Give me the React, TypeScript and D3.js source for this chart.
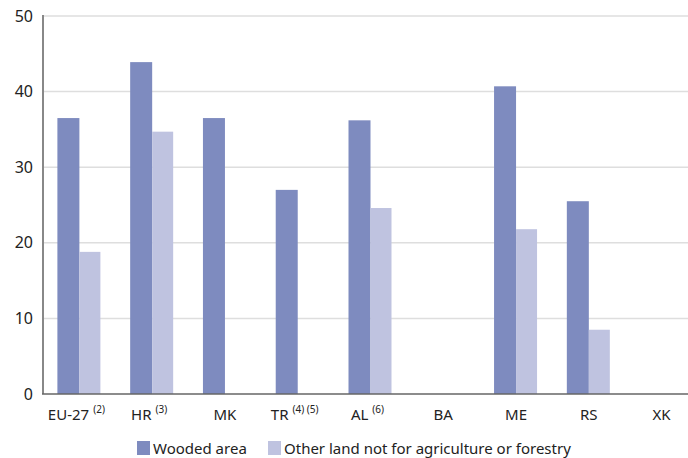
import React, { useEffect, useRef } from "react";
import * as d3 from "d3";

const categories = ["EU-27", "HR", "MK", "TR", "AL", "BA", "ME", "RS", "XK"];
const notes = ["(2)", "(3)", "", "(4) (5)", "(6)", "", "", "", ""];
const wooded: (number | null)[] = [36.5, 43.9, 36.5, 27.0, 36.2, null, 40.7, 25.5, null];
const otherLand: (number | null)[] = [18.8, 34.7, null, null, 24.6, null, 21.8, 8.5, null];
const seriesNames = ["Wooded area", "Other land not for agriculture or forestry"];
const yTicks = [0, 10, 20, 30, 40, 50];

const W = 688, H = 458;
const colors = ["#7e8bbf", "#bfc3e0"];
const FONT = "'Noto Sans', 'Open Sans', sans-serif";

export default function App() {
  const ref = useRef<SVGSVGElement>(null);
  useEffect(() => {
    const svg = d3.select(ref.current);
    svg.selectAll("*").remove();
    const left = 43, right = 698, top = 16, bottom = 394;
    const x = d3.scaleBand().domain(categories).range([left, right]).padding(0);
    const y = d3.scaleLinear().domain([0, 50]).range([bottom, top]);
    const barW = 22;

    // gridlines
    svg.append("g").selectAll("line").data(yTicks.filter(t => t > 0)).join("line")
      .attr("x1", left).attr("x2", W).attr("y1", d => y(d)).attr("y2", d => y(d))
      .attr("stroke", "#dedede").attr("stroke-width", 1.5);

    // tick labels
    svg.append("g").selectAll("text").data(yTicks).join("text")
      .attr("x", 33).attr("y", d => y(d)).attr("dy", "0.35em")
      .attr("text-anchor", "end").attr("font-family", FONT).attr("font-size", 16)
      .attr("fill", "#222").text(d => d);

    const series = [wooded, otherLand];
    series.forEach((vals, si) => {
      svg.append("g").selectAll("rect").data(categories.map((c, i) => ({ c, v: vals[i] })).filter(d => d.v != null)).join("rect")
        .attr("x", d => (x(d.c)! + x.bandwidth() / 2) - barW + si * barW)
        .attr("width", barW - (si === 1 ? 1 : 0))
        .attr("y", d => y(d.v as number))
        .attr("height", d => bottom - y(d.v as number))
        .attr("fill", colors[si]);
    });

    // axes lines
    svg.append("line").attr("x1", left).attr("x2", left).attr("y1", top - 1).attr("y2", bottom)
      .attr("stroke", "#888").attr("stroke-width", 2);
    svg.append("line").attr("x1", left - 1).attr("x2", W).attr("y1", bottom).attr("y2", bottom)
      .attr("stroke", "#666").attr("stroke-width", 1.5);

    // category labels
    const lab = svg.append("g").selectAll("text").data(categories).join("text")
      .attr("x", (d, i) => x(d)! + x.bandwidth() / 2 + (notes[i] ? -3 : 0))
      .attr("y", 420).attr("text-anchor", "middle")
      .attr("font-family", FONT).attr("font-size", 15).attr("fill", "#222");
    lab.each(function (d, i) {
      const t = d3.select(this);
      t.append("tspan").text(d);
      if (notes[i]) {
        t.append("tspan").attr("font-size", 10).attr("dy", -7).attr("dx", 4).text(notes[i]);
      }
    });

    // legend
    const lg = svg.append("g");
    const items = [{ x: 137, name: seriesNames[0] }, { x: 268, name: seriesNames[1] }];
    items.forEach((it, i) => {
      lg.append("rect").attr("x", it.x).attr("y", 441).attr("width", 13).attr("height", 14).attr("fill", colors[i]);
      lg.append("text").attr("x", it.x + 16).attr("y", 454).attr("font-family", FONT)
        .attr("font-size", 15).attr("fill", "#222").text(it.name);
    });
  }, []);
  return (
    <svg ref={ref} width={W} height={H} style={{ position: "absolute", left: 0, top: 0, background: "#fff" }} />
  );
}
